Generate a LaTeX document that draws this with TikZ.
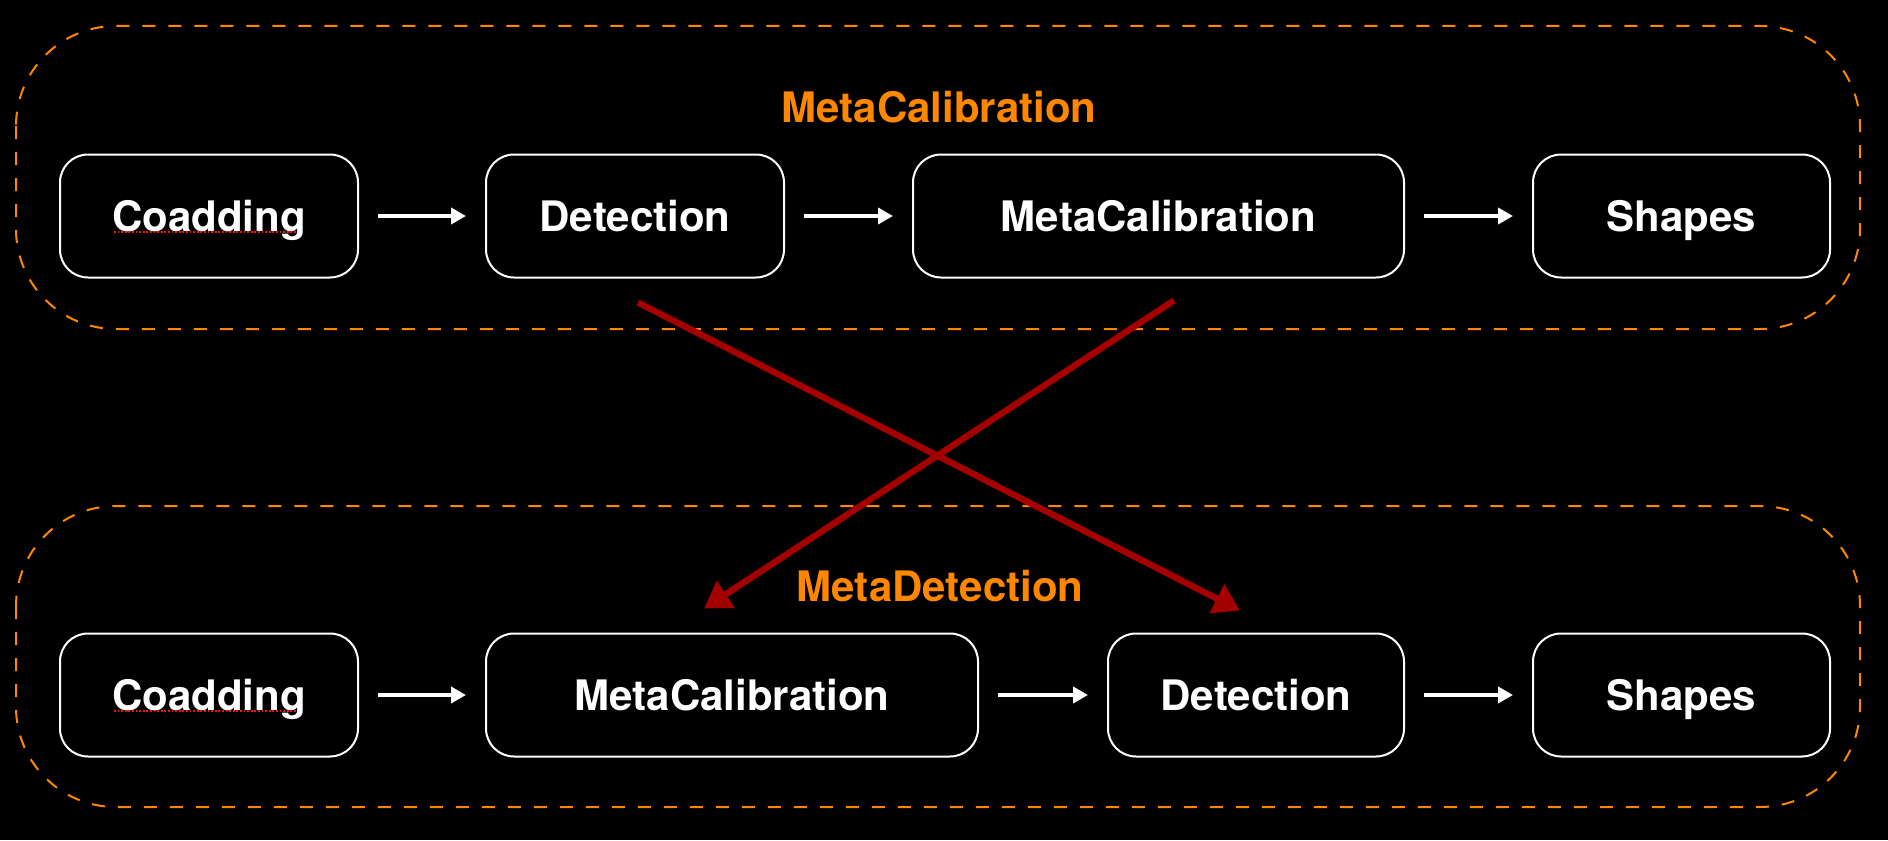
\documentclass[tikz,border=0pt]{standalone}
\usepackage{fontspec}
\setmainfont{TeX Gyre Heros}
\usetikzlibrary{arrows.meta,calc}
\definecolor{orng}{RGB}{255,135,0}
\definecolor{dred}{RGB}{165,0,0}
\definecolor{spell}{RGB}{235,20,20}
\begin{document}
\begin{tikzpicture}[x=0.5pt,y=-0.5pt,
  stage/.style={draw=white, line width=1pt, rounded corners=14pt,
    minimum height=61.5pt, text=white, inner sep=0pt,
    text height=15.3pt, text depth=0pt,
    font=\fontsize{21}{25}\selectfont\bfseries},
  grouptitle/.style={text=orng, inner sep=0pt,
    text height=15.3pt, text depth=0pt,
    font=\fontsize{21}{25}\selectfont\bfseries},
  group/.style={draw=orng, line width=1pt, dash pattern=on 6.5pt off 6.5pt,
    rounded corners=50pt},
  flow/.style={draw=white, line width=2pt, shorten <=9.5pt, shorten >=9.5pt,
    -{Triangle[length=7.5pt,width=8pt]}},
  swap/.style={draw=dred, line width=3.2pt,
    -{Triangle[length=13pt,width=15.5pt]}},
  spellmark/.style={draw=spell, line width=0.9pt, dash pattern=on 0.9pt off 0.9pt}
]
\fill[black] (0,0) rectangle (1888,840);
\useasboundingbox (0,0) rectangle (1888,840);

% group frames
\draw[group] (16,26) rectangle (1860,329);
\draw[group] (16,506) rectangle (1860,807);

\node[grouptitle] (t1) at (939,107) {MetaCalibration};
\node[grouptitle] (t2) at (940,586) {MetaDetection};

% top row
\node[stage, minimum width=149pt] (c1) at (209,216) {Coadding};
\node[stage, minimum width=149pt] (d1) at (635,216) {Detection};
\node[stage, minimum width=245.5pt] (m1) at (1158.5,216) {MetaCalibration};
\node[stage, minimum width=148.5pt] (s1) at (1681.5,216) {Shapes};

% bottom row
\node[stage, minimum width=149pt] (c2) at (209,695) {Coadding};
\node[stage, minimum width=246pt] (m2) at (732,695) {MetaCalibration};
\node[stage, minimum width=148pt] (d2) at (1256,695) {Detection};
\node[stage, minimum width=148.5pt] (s2) at (1681.5,695) {Shapes};

\draw[flow] (c1) -- (d1);
\draw[flow] (d1) -- (m1);
\draw[flow] (m1) -- (s1);
\draw[flow] (c2) -- (m2);
\draw[flow] (m2) -- (d2);
\draw[flow] (d2) -- (s2);

% spell-check marks
\draw[spellmark] ($(c1.base)+(-95,1)$) -- ($(c1.base)+(88,1)$);
\draw[spellmark] ($(c2.base)+(-95,1)$) -- ($(c2.base)+(88,1)$);

% swap arrows
\coordinate (a1s) at ($(d1.south)+(3,24)$);
\coordinate (a1e) at ($(d2.north)+(-16,-22)$);
\coordinate (b1s) at ($(m1.south)+(15.5,22)$);
\coordinate (b1e) at ($(m2.north)+(-28,-24)$);
\draw[swap] (a1s) -- (a1e);
\draw[swap] (b1s) -- (b1e);
\end{tikzpicture}
\end{document}
